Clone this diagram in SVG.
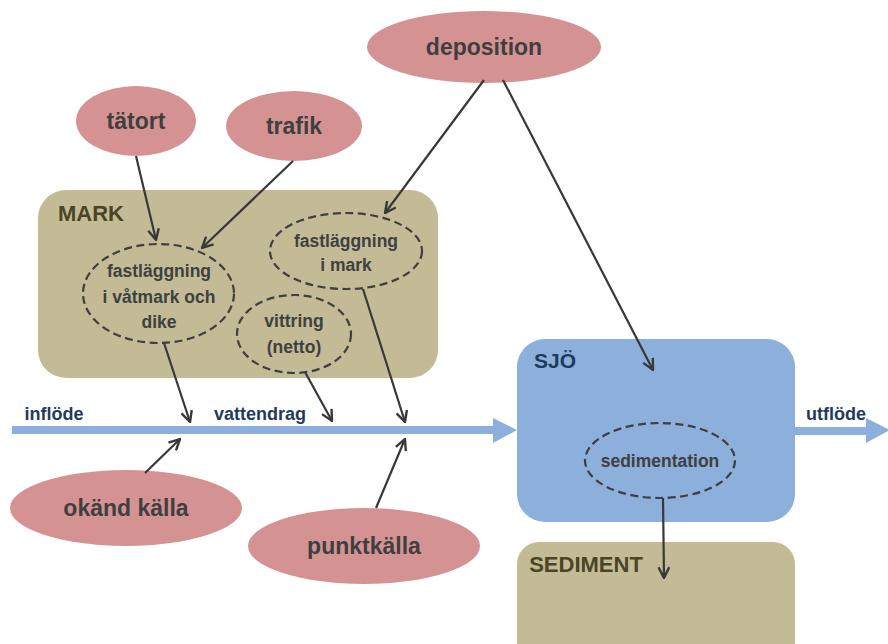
<svg xmlns="http://www.w3.org/2000/svg" width="888" height="644" viewBox="0 0 888 644">
<defs>
<style>
.t{font-family:"Liberation Sans",Arial,sans-serif;font-weight:bold;text-anchor:middle}
.src{fill:#D49392}
.srct{font-size:23px;fill:#3F3F3F}
.box{stroke:none}
.mark{fill:#C3BB96}
.sjo{fill:#8DAFDB}
.dash{fill:none;stroke:#3F3F3F;stroke-width:2.2;stroke-dasharray:8,4.5}
.et{font-size:17.5px;fill:#404040}
.blue{fill:#1F3B5C;font-size:18px}
.olive{fill:#4A4526;font-size:22px}
.con{stroke:#383838;stroke-width:2.2;fill:none;marker-end:url(#ah)}
.flow{fill:#8DAFDB}
</style>
<marker id="ah" viewBox="0 0 12 12" refX="11" refY="6" markerWidth="13" markerHeight="13" markerUnits="userSpaceOnUse" orient="auto">
<path d="M1,1 L11,6 L1,11" fill="none" stroke="#383838" stroke-width="2.2"/>
</marker>
</defs>
<rect width="888" height="644" fill="#FFFFFF"/>

<g id="mark">
<rect class="box mark" x="38" y="190" width="400" height="188" rx="28"/>
<text class="t olive" x="91" y="221">MARK</text>
</g>
<g id="sjo">
<rect class="box sjo" x="517" y="339" width="278" height="183" rx="28"/>
<text class="t blue" x="555" y="368" style="font-size:21px">SJÖ</text>
</g>
<g id="sediment">
<rect class="box mark" x="517" y="542" width="278" height="130" rx="22"/>
<text class="t olive" x="586" y="572">SEDIMENT</text>
</g>

<g id="vattendrag">
<path class="flow" d="M12,426 H493 V418 L517,430 L493,443 V434 H12 Z"/>
<text class="t blue" x="54" y="420">inflöde</text>
<text class="t blue" x="260" y="420">vattendrag</text>
</g>
<g id="utflode">
<path class="flow" d="M795,427 H866 V418 L890,430 L866,443 V435 H795 Z"/>
<text class="t blue" x="836" y="420">utflöde</text>
</g>

<g id="fastlaggning-vatmark">
<ellipse class="dash" cx="158.5" cy="293.5" rx="75.5" ry="49.5"/>
<text class="t et" x="159" y="277">fastläggning</text>
<text class="t et" x="159" y="303">i våtmark och</text>
<text class="t et" x="159" y="328">dike</text>
</g>
<g id="fastlaggning-mark">
<ellipse class="dash" cx="346" cy="251" rx="76" ry="38"/>
<text class="t et" x="346" y="247">fastläggning</text>
<text class="t et" x="346" y="271">i mark</text>
</g>
<g id="vittring">
<ellipse class="dash" cx="294" cy="334" rx="57" ry="39"/>
<text class="t et" x="294" y="327">vittring</text>
<text class="t et" x="294" y="353">(netto)</text>
</g>
<g id="sedimentation">
<ellipse class="dash" cx="660" cy="460.5" rx="75" ry="37.5"/>
<text class="t et" x="660" y="467">sedimentation</text>
</g>

<g id="deposition">
<ellipse class="src" cx="484" cy="47" rx="117" ry="36"/>
<text class="t srct" x="484" y="55">deposition</text>
</g>
<g id="tatort">
<ellipse class="src" cx="136" cy="121" rx="60" ry="35"/>
<text class="t srct" x="136" y="129">tätort</text>
</g>
<g id="trafik">
<ellipse class="src" cx="294" cy="126" rx="68" ry="35"/>
<text class="t srct" x="294" y="134">trafik</text>
</g>
<g id="okand-kalla">
<ellipse class="src" cx="126" cy="508" rx="116" ry="38"/>
<text class="t srct" x="126" y="516">okänd källa</text>
</g>
<g id="punktkalla">
<ellipse class="src" cx="364" cy="546" rx="116" ry="38"/>
<text class="t srct" x="364" y="554">punktkälla</text>
</g>

<g id="connectors">
<line class="con" x1="136" y1="156" x2="156" y2="240"/>
<line class="con" x1="293" y1="161" x2="202" y2="248"/>
<line class="con" x1="484" y1="80" x2="385" y2="213"/>
<line class="con" x1="503" y1="80" x2="653" y2="370"/>
<line class="con" x1="164" y1="343" x2="190" y2="422"/>
<line class="con" x1="305" y1="372" x2="332" y2="421"/>
<line class="con" x1="363" y1="289" x2="405" y2="422"/>
<line class="con" x1="145" y1="473" x2="180" y2="439"/>
<line class="con" x1="376" y1="508" x2="405" y2="439"/>
<line class="con" x1="663" y1="498" x2="664" y2="578"/>
</g>
</svg>
